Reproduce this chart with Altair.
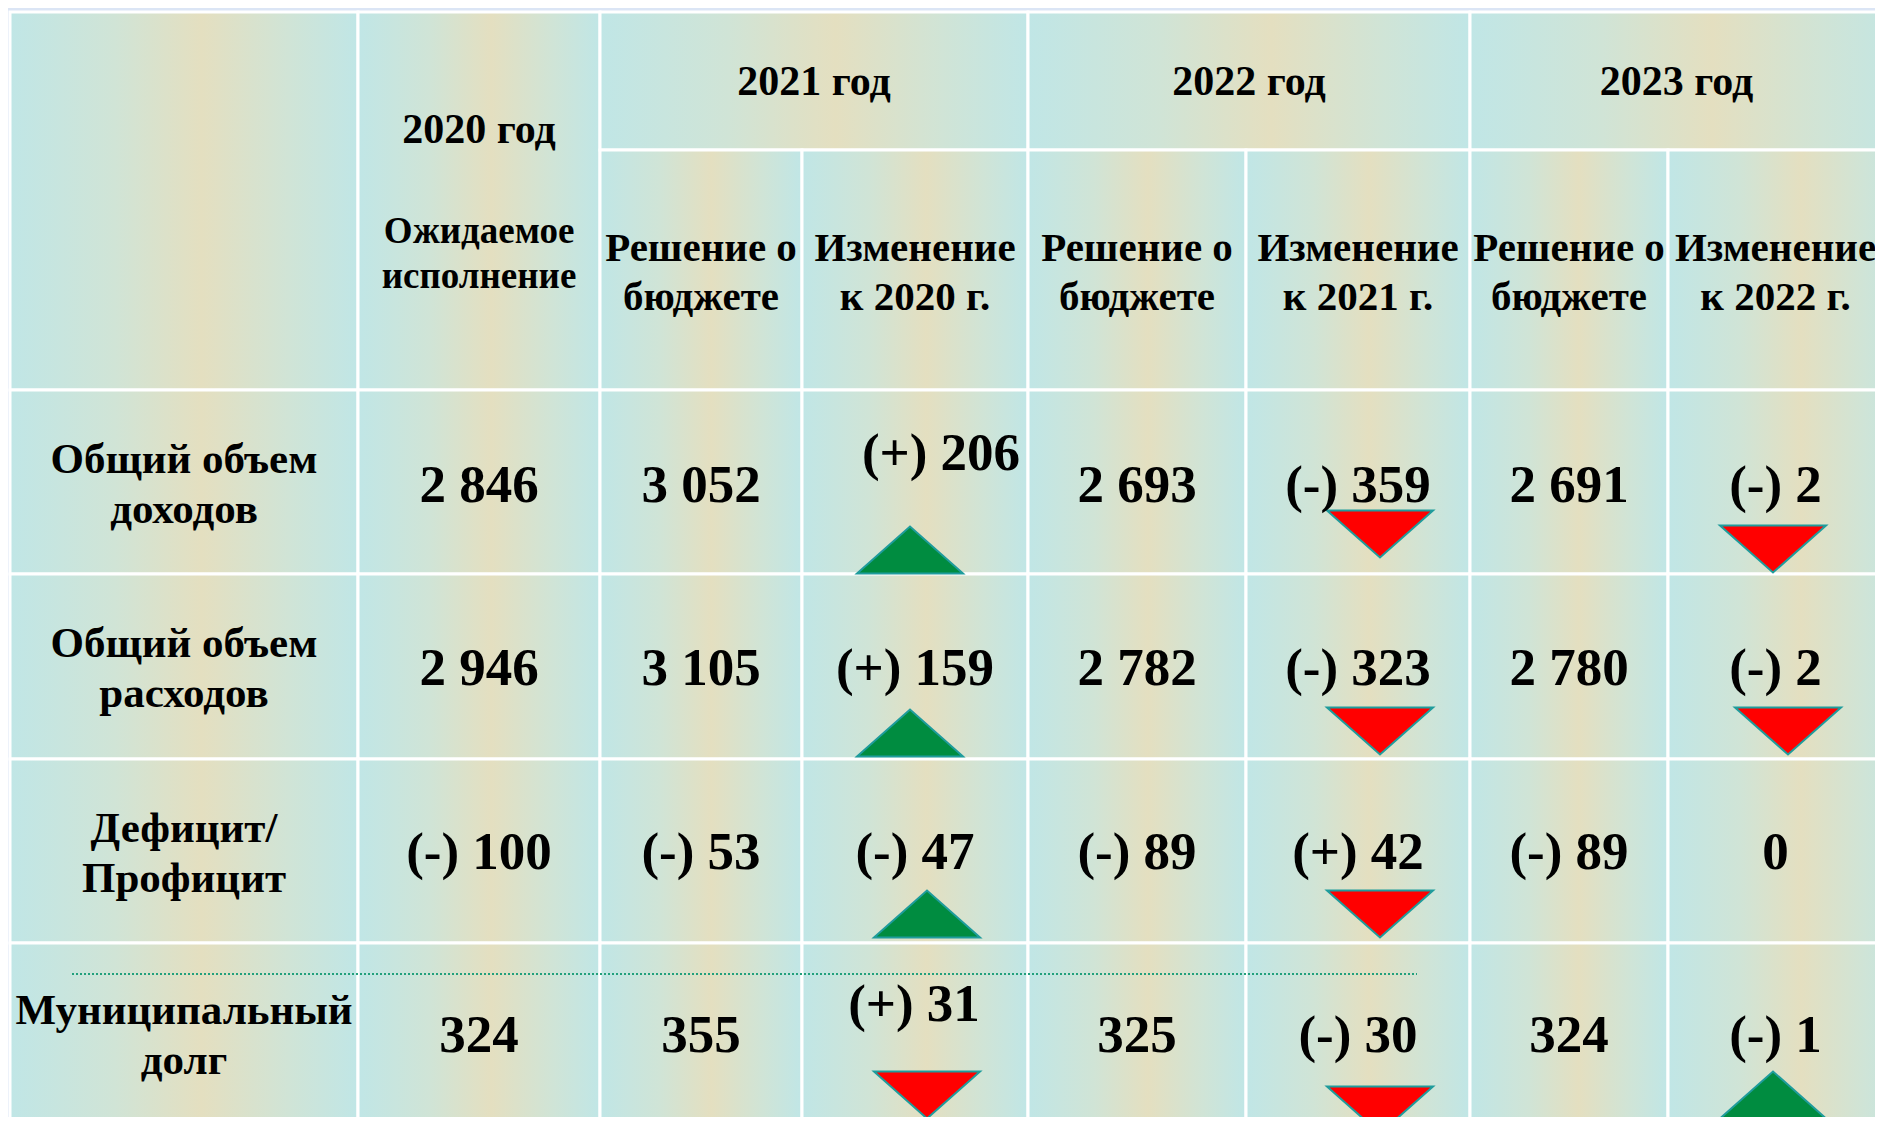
import altair as alt
import pandas as pd

# ---------------- data ----------------
row_labels = ["Общий объем\nдоходов", "Общий объем\nрасходов", "Дефицит/\nПрофицит", "Муниципальный\nдолг"]
year_headers = ["2020 год", "2021 год", "2022 год", "2023 год"]
sub_headers = ["Ожидаемое\nисполнение",
               "Решение о\nбюджете", "Изменение\nк 2020 г.",
               "Решение о\nбюджете", "Изменение\nк 2021 г.",
               "Решение о\nбюджете", "Изменение\nк 2022 г."]
expected_2020 = ["2 846", "2 946", "(-) 100", "324"]
budget_2021 = ["3 052", "3 105", "(-) 53", "355"]
change_2021 = ["(+) 206", "(+) 159", "(-) 47", "(+) 31"]
budget_2022 = ["2 693", "2 782", "(-) 89", "325"]
change_2022 = ["(-) 359", "(-) 323", "(+) 42", "(-) 30"]
budget_2023 = ["2 691", "2 780", "(-) 89", "324"]
change_2023 = ["(-) 2", "(-) 2", "0", "(-) 1"]
trend_2021 = ["up", "up", "up", "down"]
trend_2022 = ["down", "down", "down", "down"]
trend_2023 = ["down", "down", "", "up"]

# ---------------- layout (page pixels) ----------------
W, H = 1867, 1109
X0, Y0 = 8, 8
COL = [10, 358, 600, 802, 1028, 1246, 1470, 1668, 1883]
ROW = [12, 150, 390, 574, 759, 943, 1140]
VALUE_Y = [486, 669, 853, 1036]
LABEL_Y = [460, 644, 829, 1011]      # first line of each row label
# per-cell text nudges (column index, row index) -> (dx, dy)
TEXT_NUDGE = {(3, 0): (26, -32), (3, 3): (-1, -31)}
# triangle centres per change column / row
TRI_POS = {
    3: [(910, 550), (910, 733), (927, 914), (927, 1095)],
    5: [(1380, 534), (1380, 731), (1380, 914), (1380, 1110)],
    7: [(1773, 549), (1788, 731), None, (1773, 1095)],
}

def cx(i, j=None):
    j = i + 1 if j is None else j
    return (COL[i] + COL[j]) / 2

xs = alt.Scale(domain=[X0, X0 + W], nice=False, zero=False)
ys = alt.Scale(domain=[Y0, Y0 + H], nice=False, zero=False, reverse=True)

# cells
EDGE = COL[:-1] + [1910]
cells = [(EDGE[0], EDGE[1], ROW[0], ROW[2]), (EDGE[1], EDGE[2], ROW[0], ROW[2]),
         (EDGE[2], EDGE[4], ROW[0], ROW[1]), (EDGE[4], EDGE[6], ROW[0], ROW[1]),
         (EDGE[6], EDGE[8], ROW[0], ROW[1])]
for j in range(2, 8):
    cells.append((EDGE[j], EDGE[j + 1], ROW[1], ROW[2]))
for r in range(4):
    for c in range(8):
        cells.append((EDGE[c], EDGE[c + 1], ROW[2 + r], ROW[3 + r]))
cells_df = pd.DataFrame(cells, columns=["x", "x2", "y", "y2"])

cell_fill = alt.Gradient(
    gradient="linear", x1=0, x2=1, y1=0, y2=0,
    stops=[alt.GradientStop(offset=0, color="#c0e6e6"),
           alt.GradientStop(offset=0.3, color="#d0e4d6"),
           alt.GradientStop(offset=0.55, color="#e4dfc0"),
           alt.GradientStop(offset=0.8, color="#d0e4d6"),
           alt.GradientStop(offset=1, color="#c0e6e6")])

rects = alt.Chart(cells_df).mark_rect(
    fill=cell_fill, stroke="white", strokeWidth=3, clip=True
).encode(
    x=alt.X("x:Q", scale=xs, axis=None), x2="x2:Q",
    y=alt.Y("y:Q", scale=ys, axis=None), y2="y2:Q",
)

FONT = "Liberation Serif"

def text_layer(df, size, line_height=50):
    return alt.Chart(df).mark_text(
        font=FONT, fontWeight="bold", fontSize=size, color="black",
        align="center", baseline="middle", lineBreak="\n", lineHeight=line_height
    ).encode(
        x=alt.X("x:Q", scale=xs, axis=None),
        y=alt.Y("y:Q", scale=ys, axis=None),
        text="label:N",
    )

# year headers
year_df = pd.DataFrame({
    "x": [cx(1), cx(2, 4), cx(4, 6), cx(6, 8)],
    "y": [130, 82, 82, 82],
    "label": year_headers,
})
exp_df = pd.DataFrame({"x": [cx(1)], "y": [232], "label": [sub_headers[0]]})
sub_df = pd.DataFrame({
    "x": [cx(j) for j in range(2, 8)],
    "y": [249] * 6,
    "label": sub_headers[1:],
})
lab_df = pd.DataFrame({"x": [cx(0)] * 4, "y": LABEL_Y, "label": row_labels})

columns = [expected_2020, budget_2021, change_2021, budget_2022, change_2022, budget_2023, change_2023]
vals = []
for ci, col in enumerate(columns, start=1):
    for r, v in enumerate(col):
        dx, dy = TEXT_NUDGE.get((ci, r), (0, 0))
        vals.append({"x": cx(ci) + dx, "y": VALUE_Y[r] + dy, "label": v})
val_df = pd.DataFrame(vals)

# triangles
tri = []
for ci, trends in [(3, trend_2021), (5, trend_2022), (7, trend_2023)]:
    for r, t in enumerate(trends):
        if t and TRI_POS[ci][r] is not None:
            px, py = TRI_POS[ci][r]
            tri.append({"x": px, "y": py, "dir": t})
tri_df = pd.DataFrame(tri)

UP = "M -1 0.443 L 1 0.443 L 0 -0.443 Z"
DOWN = "M -1 -0.443 L 1 -0.443 L 0 0.443 Z"

def tri_layer(direction, shape, color):
    return alt.Chart(tri_df).transform_filter(
        alt.datum.dir == direction
    ).mark_point(
        shape=shape, size=11236, filled=True, fill=color, opacity=1,
        stroke="#1f9c9c", strokeWidth=2, clip=True
    ).encode(
        x=alt.X("x:Q", scale=xs, axis=None),
        y=alt.Y("y:Q", scale=ys, axis=None),
    )

dot_df = pd.DataFrame({"x": [72], "x2": [1417], "y": [974]})
dotted = alt.Chart(dot_df).mark_rule(
    color="#22a07c", strokeWidth=2, strokeDash=[2, 2]
).encode(
    x=alt.X("x:Q", scale=xs, axis=None), x2="x2:Q",
    y=alt.Y("y:Q", scale=ys, axis=None),
)

chart = alt.layer(
    rects,
    dotted,
    tri_layer("up", UP, "#008c40"),
    tri_layer("down", DOWN, "#ff0000"),
    text_layer(year_df, 42),
    text_layer(exp_df, 37, 45),
    text_layer(sub_df, 41, 49),
    text_layer(lab_df, 43, 50),
    text_layer(val_df, 53),
).properties(
    width=W, height=H, padding=0, background="#dbe5f5",
    autosize=alt.AutoSizeParams(type="none")
).configure_view(stroke=None)

chart.save("out.html", embed_options={"renderer": "svg", "actions": False})
